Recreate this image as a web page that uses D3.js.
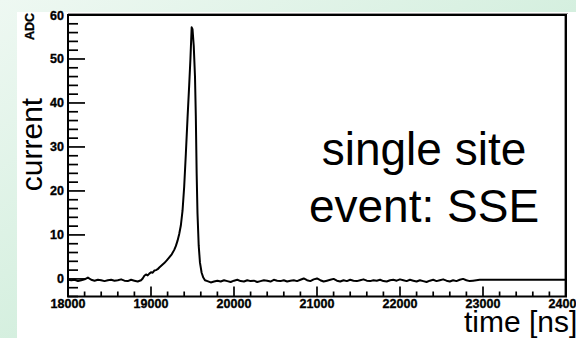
<!DOCTYPE html>
<html>
<head>
<meta charset="utf-8">
<script src="https://cdn.jsdelivr.net/npm/d3@7"></script>
<style>
  html, body { margin: 0; padding: 0; overflow: hidden; }
  svg { display: block; }
</style>
</head>
<body>
<script>
// Digitised detector pulse: ADC current versus time [ns]
const sampleStep = 40;                 // ns between baseline samples
const preStart = 18000;                // first baseline sample before the pulse
const preValues = [-0.2,-0.3,-0.2,-0.5,-0.3,-0.1,0.3,-0.2,-0.4,-0.2,-0.3,-0.5,-0.3,-0.2,-0.4,-0.3,-0.1,-0.4,-0.5,-0.2,-0.4,-0.6];

// pulse region, [time, ADC]
const pulse = [
  [18880,-0.3],[18900,0.1],[18920,0.7],[18940,1.0],[18960,0.8],[18980,1.2],[19000,1.5],[19020,1.4],
  [19040,1.9],[19060,2.0],[19080,2.2],[19100,2.6],[19130,3.1],[19160,3.6],[19190,4.2],[19220,4.9],
  [19250,5.6],[19280,6.6],[19300,7.5],[19320,8.7],[19340,10.2],[19360,12.2],[19380,15.5],[19400,21],
  [19420,28.5],[19440,36.5],[19460,44],[19475,50],[19490,57.2],[19500,56.8],[19515,53],[19530,46],
  [19540,37],[19550,24],[19560,15],[19575,7.5],[19590,3.7],[19610,1.4],[19630,0.3],[19650,-0.3]
];

const postStart = 19680;
const postValues = [
  -0.5,-0.8,-0.6,-0.4,-0.6,-0.3,-0.5,-0.7,-0.4,-0.2,
  -0.5,-0.6,-0.3,-0.5,-0.4,-0.7,-0.5,-0.3,-0.4,-0.6,
  -0.2,-0.4,-0.5,-0.3,-0.6,-0.4,-0.3,-0.5,-0.2,0.1,
  -0.3,-0.5,-0.1,0.1,-0.3,-0.6,-0.4,-0.2,0.0,-0.4,
  -0.6,-0.3,-0.5,-0.2,-0.4,-0.5,-0.3,-0.1,-0.4,-0.5,
  -0.3,-0.4,-0.2,-0.5,-0.6,-0.3,-0.2,-0.4,-0.1,-0.3,
  -0.5,-0.2,-0.4,-0.6,-0.3,-0.5,-0.7,-0.4,-0.2,-0.5,
  -0.3,-0.1,-0.4,-0.6,-0.3,-0.5,-0.2,0.0,-0.3,-0.5,
  -0.4,-0.3
];
// trace is flat after the recorded window
const tail = [[22960,-0.2],[24000,-0.2]];

const xTicks = [18000,19000,20000,21000,22000,23000,24000];
const xTickLabels = ["18000","19000","20000","21000","22000","23000","24000"];
const yTicks = [0,10,20,30,40,50,60];
const yTickLabels = ["0","10","20","30","40","50","60"];
const xDomain = [18000,24000];
const yDomain = [-4,60];

const samples = []
  .concat(preValues.map((v,i) => [preStart + i*sampleStep, v]))
  .concat(pulse)
  .concat(postValues.map((v,i) => [postStart + i*sampleStep, v]))
  .concat(tail);

const W = 576, H = 338;
const svg = d3.select("body").append("svg").attr("width", W).attr("height", H);

// slide background
const defs = svg.append("defs");
const grad = defs.append("linearGradient").attr("id","bg")
  .attr("x1","0").attr("y1","0").attr("x2","1").attr("y2","1");
grad.append("stop").attr("offset","0").attr("stop-color","#eef8f2");
grad.append("stop").attr("offset","1").attr("stop-color","#bde7cd");
svg.append("rect").attr("width",W).attr("height",H).attr("fill","url(#bg)");
svg.append("rect").attr("x",17).attr("y",12).attr("width",W-17).attr("height",H-12).attr("fill","#fff");

const x = d3.scaleLinear().domain(xDomain).range([68,566]);
const y = d3.scaleLinear().domain(yDomain).range([296.5,15]);

const font = "'Liberation Sans', Arial, Helvetica, sans-serif";

// frame shadow + frame
svg.append("line").attr("x1",x(18000)).attr("x2",x(24000)+2).attr("y1",y(60)-1.5).attr("y2",y(60)-1.5)
  .attr("stroke","#999").attr("stroke-width",1);
svg.append("line").attr("x1",x(24000)-1.5).attr("x2",x(24000)-1.5).attr("y1",y(60)).attr("y2",y(-4))
  .attr("stroke","#999").attr("stroke-width",1);
svg.append("rect").attr("x",x(18000)).attr("y",y(60)).attr("width",x(24000)-x(18000)).attr("height",y(-4)-y(60))
  .attr("fill","none").attr("stroke","#000").attr("stroke-width",2);

// y axis: ticks pointing into the frame
const yMinor = d3.range(-4, 61, 2);
svg.append("g").selectAll("line").data(yMinor).join("line")
  .attr("x1",x(18000)).attr("x2",d => x(18000) + (d % 10 === 0 ? 17 : 10))
  .attr("y1",d => y(d)).attr("y2",d => y(d))
  .attr("stroke","#000").attr("stroke-width",1.7);
svg.append("g").selectAll("text").data(yTicks).join("text")
  .attr("x",64).attr("y",d => y(d)+4.5)
  .attr("text-anchor","end").attr("font-family",font).attr("font-weight","bold").attr("font-size",12.5)
  .attr("stroke","#000").attr("stroke-width",0.35)
  .text((d,i) => yTickLabels[i]);

// x axis
const xMinor = d3.range(18000, 24001, 200);
svg.append("g").selectAll("line").data(xMinor).join("line")
  .attr("x1",d => x(d)).attr("x2",d => x(d))
  .attr("y1",y(-4)).attr("y2",d => y(-4) - (d % 1000 === 0 ? 10 : 5))
  .attr("stroke","#000").attr("stroke-width",1.7);
svg.append("g").selectAll("text").data(xTicks).join("text")
  .attr("x",d => x(d)).attr("y",307.5)
  .attr("text-anchor","middle").attr("font-family",font).attr("font-weight","bold").attr("font-size",12.5)
  .attr("stroke","#000").attr("stroke-width",0.35)
  .text((d,i) => xTickLabels[i]);

// trace
const line = d3.line().x(d => x(d[0])).y(d => y(d[1]));
svg.append("path").datum(samples).attr("d",line)
  .attr("fill","none").attr("stroke","#000").attr("stroke-width",2).attr("stroke-linejoin","round");

// axis titles
svg.append("text").attr("transform","translate(33.5,13) rotate(-90)")
  .attr("text-anchor","end").attr("font-family",font).attr("font-weight","bold").attr("font-size",12.5)
  .attr("stroke","#000").attr("stroke-width",0.3)
  .text("ADC");
svg.append("text").attr("transform","translate(42,144.5) rotate(-90)")
  .attr("text-anchor","middle").attr("font-family",font).attr("font-size",30)
  .text("current");
svg.append("text").attr("x",464).attr("y",332)
  .attr("font-family",font).attr("font-size",30)
  .text("time [ns]");

// annotation
svg.append("text").attr("x",424).attr("y",165)
  .attr("text-anchor","middle").attr("font-family",font).attr("font-size",46)
  .text("single site");
svg.append("text").attr("x",424).attr("y",222)
  .attr("text-anchor","middle").attr("font-family",font).attr("font-size",46)
  .text("event: SSE");
</script>
</body>
</html>
